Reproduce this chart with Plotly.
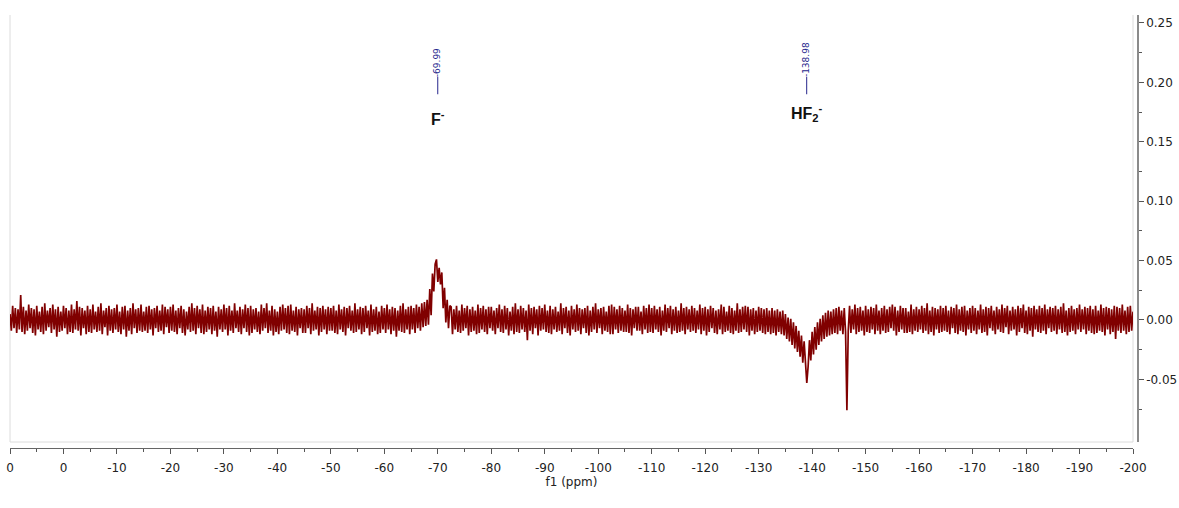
import plotly.graph_objects as go

# 19F NMR spectrum: intensity x1000, sampled every 0.25 ppm.
# One list per 30 ppm window, starting at the ppm value in seg_start.
seg_start = [10.0, -20.0, -50.0, -80.0, -110.0, -140.0, -170.0]
ppm_step = -0.25

seg_a = [5, -9, 12, -7, 10, -11, 9, -8, 21, -10,
         11, -12, 8, -9, 13, -7, 10, -11, 9, -13,
         12, -8, 7, -10, 11, -12, 14, -9, 8, -6,
         10, -11, 13, -8, 9, -14, 11, -10, 7, -9,
         12, -7, 10, -12, 8, -10, 13, -11, 9, -8,
         16, -9, 11, -13, 10, -7, 8, -12, 12, -10,
         9, -11, 13, -8, 7, -10, 11, -9, 14, -12,
         8, -6, 10, -13, 12, -9, 9, -11, 10, -8,
         13, -10, 7, -12, 11, -8, 12, -14, 8, -9,
         10, -12, 14, -7, 9, -11, 10, -9, 13, -10,
         7, -9, 11, -11, 12, -8, 9, -13, 10, -7,
         12, -10, 8, -9, 13, -12, 11, -6, 9, -11]

seg_b = [11, -9, 13, -10, 8, -12, 10, -7, 12, -11,
         9, -13, 7, -8, 11, -10, 14, -9, 10, -12,
         12, -7, 9, -11, 13, -12, 8, -10, 11, -8,
         10, -12, 12, -9, 7, -14, 11, -8, 9, -10,
         13, -8, 10, -13, 12, -9, 8, -11, 14, -7,
         8, -10, 11, -12, 9, -7, 13, -10, 10, -13,
         12, -11, 9, -8, 10, -10, 7, -12, 13, -9,
         10, -7, 14, -11, 8, -9, 12, -13, 9, -10,
         7, -12, 11, -9, 13, -8, 10, -11, 12, -12,
         13, -9, 8, -10, 11, -13, 9, -7, 10, -11,
         9, -11, 12, -7, 10, -12, 14, -9, 8, -8,
         11, -13, 10, -10, 12, -8, 9, -12, 11, -9]

seg_c = [10, -9, 12, -11, 8, -12, 13, -8, 9, -10,
         11, -13, 10, -7, 12, -9, 8, -11, 14, -10,
         9, -8, 11, -12, 10, -10, 12, -7, 8, -13,
         13, -10, 9, -9, 11, -12, 7, -11, 12, -8,
         10, -11, 13, -8, 9, -12, 11, -9, 10, -14,
         8, -9, 12, -10, 14, -11, 9, -8, 11, -12,
         12, -8, 10, -11, 13, -7, 11, -9, 14, -6,
         15, -5, 17, -4, 26, 4, 39, 24, 47, 51,
         32, 44, 30, 40, 10, 27, -2, 17, -7, 12,
         11, -12, 9, -8, 12, -10, 8, -11, 13, -9,
         10, -7, 12, -13, 9, -10, 11, -9, 8, -12,
         13, -11, 10, -8, 12, -10, 9, -12, 11, -7]

seg_d = [11, -9, 8, -12, 10, -7, 13, -10, 9, -11,
         12, -8, 10, -13, 7, -9, 11, -12, 14, -10,
         9, -11, 12, -8, 10, -10, 8, -17, 13, -9,
         10, -12, 11, -7, 9, -13, 12, -9, 10, -8,
         13, -10, 8, -11, 12, -12, 9, -8, 11, -10,
         7, -9, 14, -12, 10, -7, 11, -11, 8, -13,
         12, -8, 9, -10, 13, -9, 10, -12, 9, -7,
         10, -11, 12, -13, 8, -10, 11, -8, 14, -11,
         9, -7, 10, -12, 11, -9, 7, -10, 12, -12,
         13, -12, 11, -8, 9, -11, 12, -9, 10, -10,
         8, -10, 13, -11, 10, -13, 9, -7, 11, -9,
         11, -9, 7, -12, 12, -8, 10, -11, 13, -10]

seg_e = [10, -11, 12, -8, 9, -10, 11, -13, 8, -9,
         13, -10, 10, -7, 12, -12, 9, -9, 11, -11,
         8, -10, 14, -9, 10, -12, 11, -8, 9, -10,
         12, -9, 10, -11, 8, -8, 13, -12, 10, -9,
         11, -13, 9, -10, 12, -7, 10, -11, 8, -12,
         9, -8, 13, -12, 11, -10, 7, -9, 12, -11,
         10, -12, 8, -9, 14, -11, 9, -10, 11, -8,
         12, -10, 11, -13, 9, -9, 10, -12, 8, -10,
         11, -9, 10, -11, 9, -12, 10, -10, 8, -12,
         10, -11, 8, -13, 9, -10, 7, -12, 8, -13,
         5, -16, 2, -18, 1, -21, -2, -24, -5, -27,
         -9, -31, -13, -36, -18, -40, -53, -39, -17, -34]

seg_f = [-10, -29, -6, -25, -2, -21, 1, -18, 4, -16,
         6, -14, 8, -13, 7, -12, 9, -11, 10, -12,
         11, -9, 8, -12, 10, -10, -76, -9, 12, -11,
         9, -8, 13, -12, 10, -10, 11, -9, 8, -13,
         12, -10, 9, -11, 11, -8, 10, -12, 13, -9,
         8, -12, 10, -9, 12, -11, 9, -10, 11, -7,
         13, -9, 11, -13, 8, -10, 12, -8, 10, -11,
         10, -11, 7, -10, 13, -12, 9, -9, 11, -10,
         9, -8, 12, -11, 10, -9, 14, -12, 8, -10,
         11, -13, 10, -8, 9, -11, 12, -10, 10, -9,
         12, -10, 8, -12, 11, -7, 10, -11, 13, -12,
         9, -9, 11, -10, 12, -13, 8, -8, 10, -11]

seg_g = [12, -9, 10, -12, 8, -8, 13, -11, 9, -10,
         11, -13, 10, -7, 12, -9, 8, -12, 11, -8,
         9, -10, 13, -11, 10, -6, 12, -12, 8, -9,
         11, -8, 9, -13, 12, -10, 10, -7, 13, -11,
         8, -12, 11, -9, 10, -14, 12, -8, 9, -10,
         12, -11, 10, -9, 13, -12, 9, -7, 11, -10,
         10, -9, 12, -12, 9, -8, 11, -11, 14, -10,
         8, -13, 10, -10, 12, -9, 9, -12, 10, -8,
         13, -10, 9, -8, 11, -12, 10, -9, 12, -11,
         9, -12, 12, -11, 8, -9, 13, -10, 10, -13,
         11, -8, 10, -12, 9, -10, 12, -16, 11, -9,
         10, -11, 13, -9, 8, -12, 11, -10, 12, -9,
         7]

segments = [seg_a, seg_b, seg_c, seg_d, seg_e, seg_f, seg_g]

# Picked peaks and their assignments
peak_ppm = [-69.99, -138.98]
peak_species = ["<b>F<sup>-</sup></b>", "<b>HF<sub>2</sub><sup>-</sup></b>"]
species_y = [0.170, 0.174]

# Axis ticks
x_range = [10, -200]
x_tick_vals = [10, 0, -10, -20, -30, -40, -50, -60, -70, -80, -90, -100,
               -110, -120, -130, -140, -150, -160, -170, -180, -190, -200]
x_tick_text = ["0", "0", "-10", "-20", "-30", "-40", "-50", "-60", "-70",
               "-80", "-90", "-100", "-110", "-120", "-130", "-140", "-150",
               "-160", "-170", "-180", "-190", "-200"]
y_range = [-0.1027, 0.2567]
y_tick_vals = [-0.05, 0.0, 0.05, 0.10, 0.15, 0.20, 0.25]
y_tick_text = ["-0.05", "0.00", "0.05", "0.10", "0.15", "0.20", "0.25"]

ppm, intensity = [], []
for start, seg in zip(seg_start, segments):
    for i, v in enumerate(seg):
        ppm.append(start + ppm_step * i)
        intensity.append(v / 1000.0)

SPEC_COLOR = "#800000"
LABEL_COLOR = "#26268c"
TICK_FONT = dict(family="DejaVu Sans", size=12, color="#222222")

fig = go.Figure()
fig.add_trace(go.Scatter(
    x=ppm, y=intensity, mode="lines",
    line=dict(color=SPEC_COLOR, width=1.7),
    hoverinfo="skip", showlegend=False,
))

W, H = 1179, 508
ml, mr, mt, mb = 10, 41, 15, 60
plot_w = W - ml - mr
plot_h = H - mt - mb

x_minor = [v - 5 for v in x_tick_vals[:-1]]
y_minor = [v - 0.025 for v in y_tick_vals]

fig.update_layout(
    width=W, height=H,
    margin=dict(l=ml, r=mr, t=mt, b=mb, pad=0, autoexpand=False),
    paper_bgcolor="white", plot_bgcolor="white",
    showlegend=False,
    xaxis=dict(
        domain=[0, (plot_w - 5) / plot_w],
        range=x_range, anchor="free", position=0, automargin=False,
        showgrid=False, zeroline=False,
        showline=True, linecolor="#666666", linewidth=1,
        ticks="outside", ticklen=5, tickwidth=1, tickcolor="#555555",
        tickmode="array", tickvals=x_tick_vals, ticktext=x_tick_text,
        tickfont=TICK_FONT, ticklabelstandoff=4,
        minor=dict(tickmode="array", tickvals=x_minor, ticks="outside",
                   ticklen=3, tickcolor="#555555", showgrid=False),
        title=dict(text="f1 (ppm)", font=TICK_FONT, standoff=0),
    ),
    yaxis=dict(
        domain=[6 / plot_h, 1],
        range=y_range, side="right", anchor="free", position=1,
        automargin=False,
        showgrid=False, zeroline=False,
        showline=True, linecolor="#8a8a8a", linewidth=1.5,
        ticks="outside", ticklen=5, tickwidth=1, tickcolor="#555555",
        tickmode="array", tickvals=y_tick_vals, ticktext=y_tick_text,
        tickfont=TICK_FONT,
        minor=dict(tickmode="array", tickvals=y_minor, ticks="outside",
                   ticklen=3, tickcolor="#555555", showgrid=False),
    ),
)

# light frame around the spectrum area
frame = dict(type="line", xref="x domain", yref="y domain",
             line=dict(color="#dcdcdc", width=1), layer="below")
fig.add_shape(x0=0, x1=1, y0=0, y1=0, **frame)
fig.add_shape(x0=1, x1=1, y0=0, y1=1, **frame)
fig.add_shape(x0=0, x1=0, y0=0, y1=1, **frame)

# peak-pick labels (value + tick line) and species assignments
for p, sp, sy in zip(peak_ppm, peak_species, species_y):
    fig.add_annotation(
        x=p, y=0.2029, xref="x", yref="y",
        text=f"{p:.2f}", textangle=-90, showarrow=False,
        xanchor="center", yanchor="bottom",
        font=dict(family="DejaVu Sans", size=9, color=LABEL_COLOR),
    )
    fig.add_shape(type="line", xref="x", yref="y", x0=p, x1=p,
                  y0=0.190, y1=0.2045,
                  line=dict(color=LABEL_COLOR, width=1))
    fig.add_annotation(
        x=p, y=sy, xref="x", yref="y", text=sp, showarrow=False,
        font=dict(family="Liberation Sans", size=16, color="#111111"),
    )

fig.write_html("out.html")
